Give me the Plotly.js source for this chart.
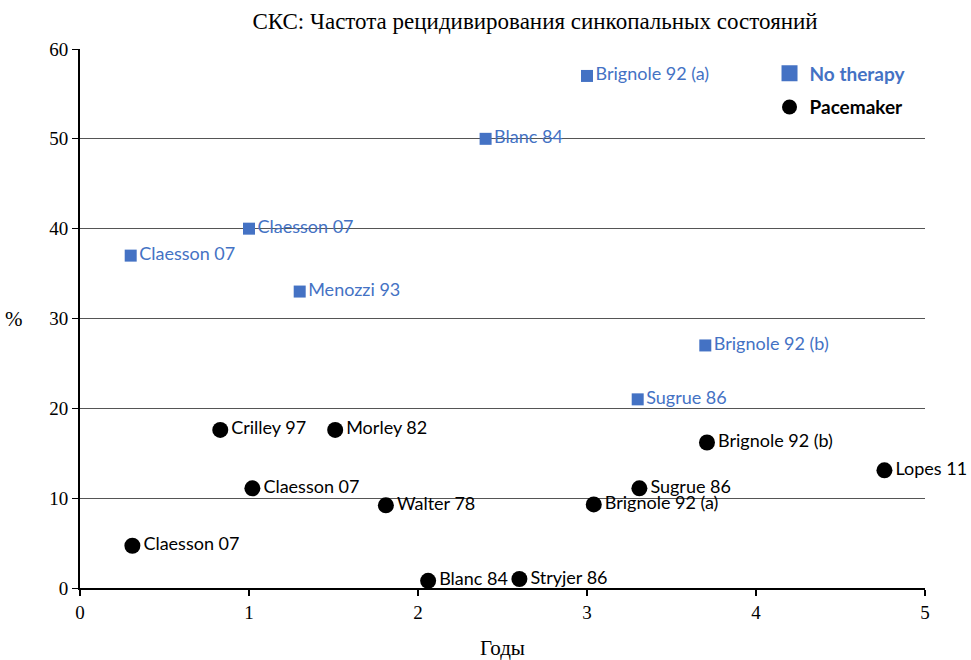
<!DOCTYPE html>
<html><head><meta charset="utf-8">
<script src="https://cdn.plot.ly/plotly-3.0.1.min.js"></script>
<style>html,body{margin:0;padding:0;background:#fff}#chart{width:971px;height:660px}</style>
</head><body><div id="chart"></div>
<script>
const noTherapyLabels = ["Brignole 92 (a)", "Blanc 84", "Claesson 07", "Claesson 07", "Menozzi 93", "Brignole 92 (b)", "Sugrue 86"];
const noTherapyYears = [3.0, 2.4, 1.0, 0.3, 1.3, 3.7, 3.3];
const noTherapyPct = [57, 50, 40, 37, 33, 27, 21];

const pacemakerLabels = ["Crilley 97", "Morley 82", "Claesson 07", "Walter 78", "Claesson 07", "Blanc 84", "Stryjer 86", "Brignole 92 (b)", "Lopes 11", "Sugrue 86", "Brignole 92 (a)"];
const pacemakerYears = [0.83, 1.51, 1.02, 1.81, 0.31, 2.06, 2.60, 3.71, 4.76, 3.31, 3.04];
const pacemakerPct = [17.6, 17.6, 11.1, 9.2, 4.7, 0.8, 1.0, 16.2, 13.1, 11.1, 9.3];

const seriesNames = ["No therapy", "Pacemaker"];

const xTicks = [0, 1, 2, 3, 4, 5];
const yTicks = [0, 10, 20, 30, 40, 50, 60];

const blue = '#4472C4';
const labelFont = 'Lato, "Open Sans", sans-serif';
const serif = '"Liberation Serif", "Times New Roman", serif';

const traces = [
  {
    type: 'scatter', mode: 'markers+text',
    name: seriesNames[0], showlegend: false,
    x: noTherapyYears, y: noTherapyPct, text: noTherapyLabels,
    textposition: 'middle right',
    textfont: {family: labelFont, size: 18, color: blue},
    marker: {symbol: 'square', size: 12, color: blue},
    cliponaxis: false
  },
  {
    type: 'scatter', mode: 'markers+text',
    name: seriesNames[1], showlegend: false,
    x: pacemakerYears, y: pacemakerPct, text: pacemakerLabels,
    textposition: 'middle right',
    textfont: {family: labelFont, size: 18, color: '#000'},
    marker: {symbol: 'circle', size: 16, color: '#000'},
    cliponaxis: false
  },
  // legend entries (larger legend symbols, as in the reference)
  {
    type: 'scatter', mode: 'markers', name: '<b>' + seriesNames[0] + '</b>', legendgroup: 'a',
    x: [null], y: [null], marker: {symbol: 'square', size: 16, color: blue}
  },
  {
    type: 'scatter', mode: 'markers', name: '<b>' + seriesNames[1] + '</b>', legendgroup: 'b',
    x: [null], y: [null], marker: {symbol: 'circle', size: 15, color: '#000'}
  }
];

const layout = {
  width: 971, height: 660,
  paper_bgcolor: '#fff', plot_bgcolor: '#fff',
  margin: {l: 80, r: 46, t: 49, b: 72},
  title: {text: 'СКС: Частота рецидивирования синкопальных состояний',
          font: {family: serif, size: 23, color: '#000'},
          x: 0.551, xanchor: 'center', y: 0.968, yanchor: 'middle'},
  xaxis: {
    range: [0, 5], tickvals: xTicks, ticktext: xTicks.map(String),
    showgrid: false, zeroline: false,
    showline: true, linecolor: '#000', linewidth: 2,
    ticks: 'outside', ticklen: 6, tickwidth: 2, tickcolor: '#000',
    tickfont: {family: serif, size: 19, color: '#000'},
    title: {text: 'Годы', font: {family: serif, size: 21, color: '#000'}, standoff: 28}
  },
  yaxis: {
    range: [0, 60], tickvals: yTicks, ticktext: yTicks.map(String),
    showgrid: true, gridcolor: '#555', gridwidth: 1, zeroline: false,
    showline: true, linecolor: '#000', linewidth: 2,
    ticks: 'outside', ticklen: 6, tickwidth: 1, tickcolor: '#000',
    tickfont: {family: serif, size: 19, color: '#000'}
  },
  showlegend: true,
  legend: {
    x: 0.816, y: 0.99, xanchor: 'left', yanchor: 'top',
    bgcolor: 'rgba(0,0,0,0)',
    font: {family: labelFont, size: 19, color: '#000'},
    itemsizing: 'trace', tracegroupgap: 6
  },
  annotations: [
    {text: '%', xref: 'paper', yref: 'paper', x: -0.078, y: 0.5, xanchor: 'center', yanchor: 'middle',
     showarrow: false, font: {family: serif, size: 21, color: '#000'}}
  ]
};

Plotly.newPlot('chart', traces, layout, {displayModeBar: false, staticPlot: true}).then(() => {
  const items = document.querySelectorAll('.legendtext');
  if (items[0]) items[0].style.fill = blue;
});
</script></body></html>
